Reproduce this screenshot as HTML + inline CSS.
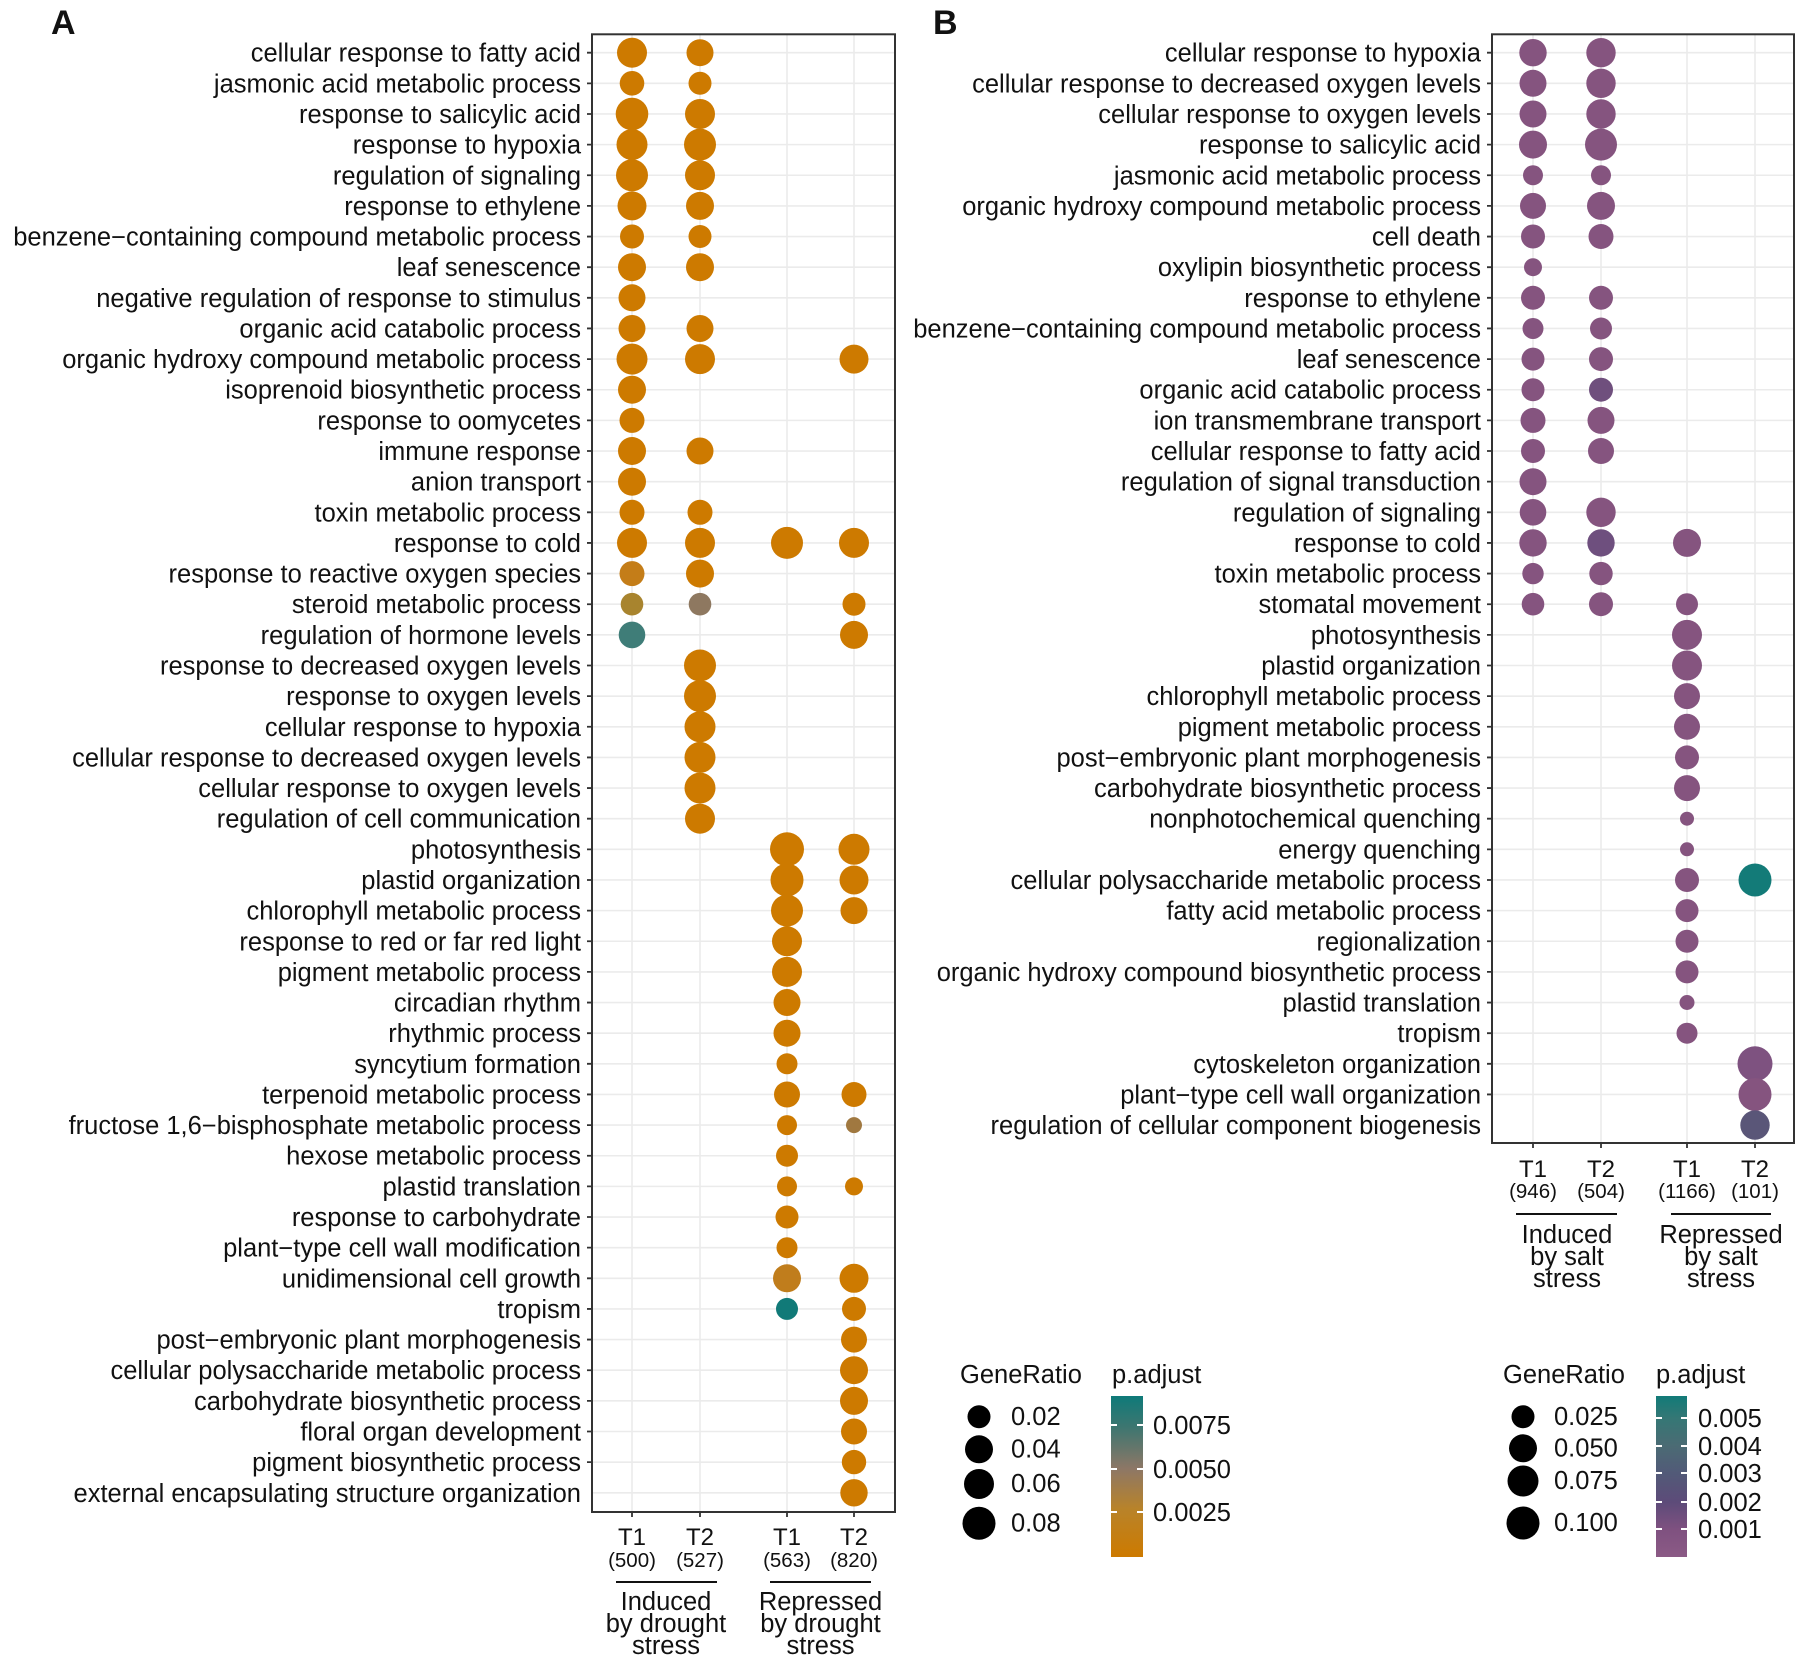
<!DOCTYPE html>
<html><head><meta charset="utf-8"><style>
html,body{margin:0;padding:0;background:#fff;}
svg{display:block;}
text{font-family:"Liberation Sans",Arial,sans-serif;fill:#111;}
.yl{font-size:25.5px;text-anchor:end;}
.xl{font-size:24px;text-anchor:middle;}
.xn{font-size:20.5px;text-anchor:middle;}
.gl{font-size:25.5px;text-anchor:middle;}
.lg{font-size:25.5px;}
</style></head><body>
<svg width="1809" height="1672" viewBox="0 0 1809 1672" xmlns="http://www.w3.org/2000/svg">
<defs>
<linearGradient id="gA" x1="0" y1="1" x2="0" y2="0">
<stop offset="0" stop-color="#cd7a00"/>
<stop offset="0.3" stop-color="#b8832a"/>
<stop offset="0.55" stop-color="#8d7766"/>
<stop offset="0.8" stop-color="#3f7670"/>
<stop offset="1" stop-color="#0e7a79"/>
</linearGradient>
<linearGradient id="gB" x1="0" y1="1" x2="0" y2="0">
<stop offset="0" stop-color="#8b5a85"/>
<stop offset="0.17" stop-color="#7f5180"/>
<stop offset="0.34" stop-color="#5d4b79"/>
<stop offset="0.52" stop-color="#525a78"/>
<stop offset="0.69" stop-color="#4b6b74"/>
<stop offset="0.86" stop-color="#357775"/>
<stop offset="1" stop-color="#127b78"/>
</linearGradient>
</defs>

<text x="51" y="34" style="font-size:34px;font-weight:bold">A</text>
<text x="933" y="34" style="font-size:34px;font-weight:bold">B</text>

<!-- Panel A grid -->
<path fill="none" stroke="#ebebeb" stroke-width="1.6" d="M592 52.7h303m-303 30.64h303m-303 30.64h303m-303 30.64h303m-303 30.64h303m-303 30.64h303m-303 30.64h303m-303 30.64h303m-303 30.64h303m-303 30.64h303m-303 30.64h303m-303 30.64h303m-303 30.64h303m-303 30.64h303m-303 30.64h303m-303 30.64h303m-303 30.64h303m-303 30.64h303m-303 30.64h303m-303 30.64h303m-303 30.64h303m-303 30.64h303m-303 30.64h303m-303 30.64h303m-303 30.64h303m-303 30.64h303m-303 30.64h303m-303 30.64h303m-303 30.64h303m-303 30.64h303m-303 30.64h303m-303 30.64h303m-303 30.64h303m-303 30.64h303m-303 30.64h303m-303 30.64h303m-303 30.64h303m-303 30.64h303m-303 30.64h303m-303 30.64h303m-303 30.64h303m-303 30.64h303m-303 30.64h303m-303 30.64h303m-303 30.64h303m-303 30.64h303m-303 30.64h303m-303 30.64h303M632 34.3V1512M700 34.3V1512M787 34.3V1512M854 34.3V1512"/>
<!-- Panel B grid -->
<path fill="none" stroke="#ebebeb" stroke-width="1.6" d="M1492 52.7h302m-302 30.64h302m-302 30.64h302m-302 30.64h302m-302 30.64h302m-302 30.64h302m-302 30.64h302m-302 30.64h302m-302 30.64h302m-302 30.64h302m-302 30.64h302m-302 30.64h302m-302 30.64h302m-302 30.64h302m-302 30.64h302m-302 30.64h302m-302 30.64h302m-302 30.64h302m-302 30.64h302m-302 30.64h302m-302 30.64h302m-302 30.64h302m-302 30.64h302m-302 30.64h302m-302 30.64h302m-302 30.64h302m-302 30.64h302m-302 30.64h302m-302 30.64h302m-302 30.64h302m-302 30.64h302m-302 30.64h302m-302 30.64h302m-302 30.64h302m-302 30.64h302M1533 34.3V1143M1601 34.3V1143M1687 34.3V1143M1755 34.3V1143"/>

<!-- Panel A circles -->
<g fill="#cd7a00">
<circle cx="632" cy="52.7" r="15"/><circle cx="700" cy="52.7" r="13.5"/>
<circle cx="632" cy="83.3" r="12.3"/><circle cx="700" cy="83.3" r="11.5"/>
<circle cx="632" cy="114" r="16.3"/><circle cx="700" cy="114" r="15"/>
<circle cx="632" cy="144.6" r="15.5"/><circle cx="700" cy="144.6" r="16"/>
<circle cx="632" cy="175.3" r="16"/><circle cx="700" cy="175.3" r="15"/>
<circle cx="632" cy="205.9" r="14.5"/><circle cx="700" cy="205.9" r="14"/>
<circle cx="632" cy="236.5" r="12"/><circle cx="700" cy="236.5" r="11.5"/>
<circle cx="632" cy="267.2" r="14"/><circle cx="700" cy="267.2" r="14"/>
<circle cx="632" cy="297.8" r="13.5"/>
<circle cx="632" cy="328.5" r="13.5"/><circle cx="700" cy="328.5" r="13.5"/>
<circle cx="632" cy="359.1" r="15.5"/><circle cx="700" cy="359.1" r="15"/><circle cx="854" cy="359.1" r="14.5"/>
<circle cx="632" cy="389.7" r="14"/>
<circle cx="632" cy="420.4" r="12.5"/>
<circle cx="632" cy="451" r="14"/><circle cx="700" cy="451" r="13.5"/>
<circle cx="632" cy="481.7" r="14"/>
<circle cx="632" cy="512.3" r="12.5"/><circle cx="700" cy="512.3" r="12.5"/>
<circle cx="632" cy="542.9" r="15"/><circle cx="700" cy="542.9" r="15"/><circle cx="787" cy="542.9" r="16"/><circle cx="854" cy="542.9" r="15"/>
<circle cx="632" cy="573.6" r="12.5" fill="#c47d18"/><circle cx="700" cy="573.6" r="14"/>
<circle cx="632" cy="604.2" r="11.3" fill="#a8842e"/><circle cx="700" cy="604.2" r="11.3" fill="#8e7860"/><circle cx="854" cy="604.2" r="11.5"/>
<circle cx="632" cy="634.9" r="13.3" fill="#3f7d78"/><circle cx="854" cy="634.9" r="14"/>
<circle cx="700" cy="665.5" r="16"/>
<circle cx="700" cy="696.1" r="16"/>
<circle cx="700" cy="726.8" r="15.5"/>
<circle cx="700" cy="757.4" r="15.5"/>
<circle cx="700" cy="788.1" r="15.5"/>
<circle cx="700" cy="818.7" r="15"/>
<circle cx="787" cy="849.3" r="17"/><circle cx="854" cy="849.3" r="15.5"/>
<circle cx="787" cy="880" r="16.5"/><circle cx="854" cy="880" r="14.5"/>
<circle cx="787" cy="910.6" r="16"/><circle cx="854" cy="910.6" r="13.5"/>
<circle cx="787" cy="941.3" r="15"/>
<circle cx="787" cy="971.9" r="15"/>
<circle cx="787" cy="1002.5" r="13.5"/>
<circle cx="787" cy="1033.2" r="13.5"/>
<circle cx="787" cy="1063.8" r="10.5"/>
<circle cx="787" cy="1094.5" r="13"/><circle cx="854" cy="1094.5" r="12.5"/>
<circle cx="787" cy="1125.1" r="10"/><circle cx="854" cy="1125.1" r="8" fill="#a07840"/>
<circle cx="787" cy="1155.7" r="11"/>
<circle cx="787" cy="1186.4" r="10"/><circle cx="854" cy="1186.4" r="9"/>
<circle cx="787" cy="1217" r="11.5"/>
<circle cx="787" cy="1247.7" r="10.5"/>
<circle cx="787" cy="1278.3" r="14" fill="#c07d1c"/><circle cx="854" cy="1278.3" r="14.5"/>
<circle cx="787" cy="1308.9" r="11" fill="#117a78"/><circle cx="854" cy="1308.9" r="12"/>
<circle cx="854" cy="1339.6" r="13"/>
<circle cx="854" cy="1370.2" r="14"/>
<circle cx="854" cy="1400.9" r="14"/>
<circle cx="854" cy="1431.5" r="13"/>
<circle cx="854" cy="1462.1" r="12.2"/>
<circle cx="854" cy="1492.8" r="13.7"/>
</g>

<!-- Panel B circles -->
<g fill="#85547f">
<circle cx="1533" cy="52.7" r="13.7"/><circle cx="1601" cy="52.7" r="14.7"/>
<circle cx="1533" cy="83.3" r="13.5"/><circle cx="1601" cy="83.3" r="14.7"/>
<circle cx="1533" cy="114" r="13.5"/><circle cx="1601" cy="114" r="14.7"/>
<circle cx="1533" cy="144.6" r="14"/><circle cx="1601" cy="144.6" r="16"/>
<circle cx="1533" cy="175.3" r="10"/><circle cx="1601" cy="175.3" r="10"/>
<circle cx="1533" cy="205.9" r="13"/><circle cx="1601" cy="205.9" r="14"/>
<circle cx="1533" cy="236.5" r="12"/><circle cx="1601" cy="236.5" r="12.5"/>
<circle cx="1533" cy="267.2" r="9"/>
<circle cx="1533" cy="297.8" r="12"/><circle cx="1601" cy="297.8" r="12"/>
<circle cx="1533" cy="328.5" r="10.5"/><circle cx="1601" cy="328.5" r="11"/>
<circle cx="1533" cy="359.1" r="11.5"/><circle cx="1601" cy="359.1" r="12"/>
<circle cx="1533" cy="389.7" r="11.5"/><circle cx="1601" cy="389.7" r="12" fill="#6f4f7d"/>
<circle cx="1533" cy="420.4" r="12.5"/><circle cx="1601" cy="420.4" r="13.5"/>
<circle cx="1533" cy="451" r="12"/><circle cx="1601" cy="451" r="13"/>
<circle cx="1533" cy="481.7" r="13.5"/>
<circle cx="1533" cy="512.3" r="13.3"/><circle cx="1601" cy="512.3" r="14.7"/>
<circle cx="1533" cy="542.9" r="13.7"/><circle cx="1601" cy="542.9" r="13.7" fill="#6e4f7e"/><circle cx="1687" cy="542.9" r="14"/>
<circle cx="1533" cy="573.6" r="10.7"/><circle cx="1601" cy="573.6" r="11.7"/>
<circle cx="1533" cy="604.2" r="11.3"/><circle cx="1601" cy="604.2" r="12"/><circle cx="1687" cy="604.2" r="11"/>
<circle cx="1687" cy="634.9" r="15"/>
<circle cx="1687" cy="665.5" r="15"/>
<circle cx="1687" cy="696.1" r="13"/>
<circle cx="1687" cy="726.8" r="13"/>
<circle cx="1687" cy="757.4" r="12"/>
<circle cx="1687" cy="788.1" r="13"/>
<circle cx="1687" cy="818.7" r="7"/>
<circle cx="1687" cy="849.3" r="7"/>
<circle cx="1687" cy="880" r="12"/><circle cx="1755" cy="880" r="16.5" fill="#137b78"/>
<circle cx="1687" cy="910.6" r="11.5"/>
<circle cx="1687" cy="941.3" r="11.5"/>
<circle cx="1687" cy="971.9" r="11.5"/>
<circle cx="1687" cy="1002.5" r="7.5"/>
<circle cx="1687" cy="1033.2" r="10.5"/>
<circle cx="1755" cy="1063.8" r="17.5" fill="#7e5280"/>
<circle cx="1755" cy="1094.5" r="16.5"/>
<circle cx="1755" cy="1125.1" r="14.7" fill="#5a5678"/>
</g>

<!-- Borders and ticks -->
<rect x="592" y="34.3" width="303" height="1477.7" fill="none" stroke="#333" stroke-width="2"/>
<rect x="1492" y="34.3" width="302" height="1108.7" fill="none" stroke="#333" stroke-width="2"/>
<path fill="none" stroke="#333" stroke-width="1.8" d="M587 52.7h5m-5 30.64h5m-5 30.64h5m-5 30.64h5m-5 30.64h5m-5 30.64h5m-5 30.64h5m-5 30.64h5m-5 30.64h5m-5 30.64h5m-5 30.64h5m-5 30.64h5m-5 30.64h5m-5 30.64h5m-5 30.64h5m-5 30.64h5m-5 30.64h5m-5 30.64h5m-5 30.64h5m-5 30.64h5m-5 30.64h5m-5 30.64h5m-5 30.64h5m-5 30.64h5m-5 30.64h5m-5 30.64h5m-5 30.64h5m-5 30.64h5m-5 30.64h5m-5 30.64h5m-5 30.64h5m-5 30.64h5m-5 30.64h5m-5 30.64h5m-5 30.64h5m-5 30.64h5m-5 30.64h5m-5 30.64h5m-5 30.64h5m-5 30.64h5m-5 30.64h5m-5 30.64h5m-5 30.64h5m-5 30.64h5m-5 30.64h5m-5 30.64h5m-5 30.64h5M632 1512v5M700 1512v5M787 1512v5M854 1512v5"/>
<path fill="none" stroke="#333" stroke-width="1.8" d="M1487 52.7h5m-5 30.64h5m-5 30.64h5m-5 30.64h5m-5 30.64h5m-5 30.64h5m-5 30.64h5m-5 30.64h5m-5 30.64h5m-5 30.64h5m-5 30.64h5m-5 30.64h5m-5 30.64h5m-5 30.64h5m-5 30.64h5m-5 30.64h5m-5 30.64h5m-5 30.64h5m-5 30.64h5m-5 30.64h5m-5 30.64h5m-5 30.64h5m-5 30.64h5m-5 30.64h5m-5 30.64h5m-5 30.64h5m-5 30.64h5m-5 30.64h5m-5 30.64h5m-5 30.64h5m-5 30.64h5m-5 30.64h5m-5 30.64h5m-5 30.64h5m-5 30.64h5M1533 1143v5M1601 1143v5M1687 1143v5M1755 1143v5"/>

<!-- Panel A y labels -->
<g transform="translate(0,9)">
<text class="yl" x="581" y="52.7">cellular response to fatty acid</text>
<text class="yl" x="581" y="83.3">jasmonic acid metabolic process</text>
<text class="yl" x="581" y="114">response to salicylic acid</text>
<text class="yl" x="581" y="144.6">response to hypoxia</text>
<text class="yl" x="581" y="175.3">regulation of signaling</text>
<text class="yl" x="581" y="205.9">response to ethylene</text>
<text class="yl" x="581" y="236.5">benzene−containing compound metabolic process</text>
<text class="yl" x="581" y="267.2">leaf senescence</text>
<text class="yl" x="581" y="297.8">negative regulation of response to stimulus</text>
<text class="yl" x="581" y="328.5">organic acid catabolic process</text>
<text class="yl" x="581" y="359.1">organic hydroxy compound metabolic process</text>
<text class="yl" x="581" y="389.7">isoprenoid biosynthetic process</text>
<text class="yl" x="581" y="420.4">response to oomycetes</text>
<text class="yl" x="581" y="451">immune response</text>
<text class="yl" x="581" y="481.7">anion transport</text>
<text class="yl" x="581" y="512.3">toxin metabolic process</text>
<text class="yl" x="581" y="542.9">response to cold</text>
<text class="yl" x="581" y="573.6">response to reactive oxygen species</text>
<text class="yl" x="581" y="604.2">steroid metabolic process</text>
<text class="yl" x="581" y="634.9">regulation of hormone levels</text>
<text class="yl" x="581" y="665.5">response to decreased oxygen levels</text>
<text class="yl" x="581" y="696.1">response to oxygen levels</text>
<text class="yl" x="581" y="726.8">cellular response to hypoxia</text>
<text class="yl" x="581" y="757.4">cellular response to decreased oxygen levels</text>
<text class="yl" x="581" y="788.1">cellular response to oxygen levels</text>
<text class="yl" x="581" y="818.7">regulation of cell communication</text>
<text class="yl" x="581" y="849.3">photosynthesis</text>
<text class="yl" x="581" y="880">plastid organization</text>
<text class="yl" x="581" y="910.6">chlorophyll metabolic process</text>
<text class="yl" x="581" y="941.3">response to red or far red light</text>
<text class="yl" x="581" y="971.9">pigment metabolic process</text>
<text class="yl" x="581" y="1002.5">circadian rhythm</text>
<text class="yl" x="581" y="1033.2">rhythmic process</text>
<text class="yl" x="581" y="1063.8">syncytium formation</text>
<text class="yl" x="581" y="1094.5">terpenoid metabolic process</text>
<text class="yl" x="581" y="1125.1">fructose 1,6−bisphosphate metabolic process</text>
<text class="yl" x="581" y="1155.7">hexose metabolic process</text>
<text class="yl" x="581" y="1186.4">plastid translation</text>
<text class="yl" x="581" y="1217">response to carbohydrate</text>
<text class="yl" x="581" y="1247.7">plant−type cell wall modification</text>
<text class="yl" x="581" y="1278.3">unidimensional cell growth</text>
<text class="yl" x="581" y="1308.9">tropism</text>
<text class="yl" x="581" y="1339.6">post−embryonic plant morphogenesis</text>
<text class="yl" x="581" y="1370.2">cellular polysaccharide metabolic process</text>
<text class="yl" x="581" y="1400.9">carbohydrate biosynthetic process</text>
<text class="yl" x="581" y="1431.5">floral organ development</text>
<text class="yl" x="581" y="1462.1">pigment biosynthetic process</text>
<text class="yl" x="581" y="1492.8">external encapsulating structure organization</text>
</g>

<!-- Panel B y labels -->
<g transform="translate(0,9)">
<text class="yl" x="1481" y="52.7">cellular response to hypoxia</text>
<text class="yl" x="1481" y="83.3">cellular response to decreased oxygen levels</text>
<text class="yl" x="1481" y="114">cellular response to oxygen levels</text>
<text class="yl" x="1481" y="144.6">response to salicylic acid</text>
<text class="yl" x="1481" y="175.3">jasmonic acid metabolic process</text>
<text class="yl" x="1481" y="205.9">organic hydroxy compound metabolic process</text>
<text class="yl" x="1481" y="236.5">cell death</text>
<text class="yl" x="1481" y="267.2">oxylipin biosynthetic process</text>
<text class="yl" x="1481" y="297.8">response to ethylene</text>
<text class="yl" x="1481" y="328.5">benzene−containing compound metabolic process</text>
<text class="yl" x="1481" y="359.1">leaf senescence</text>
<text class="yl" x="1481" y="389.7">organic acid catabolic process</text>
<text class="yl" x="1481" y="420.4">ion transmembrane transport</text>
<text class="yl" x="1481" y="451">cellular response to fatty acid</text>
<text class="yl" x="1481" y="481.7">regulation of signal transduction</text>
<text class="yl" x="1481" y="512.3">regulation of signaling</text>
<text class="yl" x="1481" y="542.9">response to cold</text>
<text class="yl" x="1481" y="573.6">toxin metabolic process</text>
<text class="yl" x="1481" y="604.2">stomatal movement</text>
<text class="yl" x="1481" y="634.9">photosynthesis</text>
<text class="yl" x="1481" y="665.5">plastid organization</text>
<text class="yl" x="1481" y="696.1">chlorophyll metabolic process</text>
<text class="yl" x="1481" y="726.8">pigment metabolic process</text>
<text class="yl" x="1481" y="757.4">post−embryonic plant morphogenesis</text>
<text class="yl" x="1481" y="788.1">carbohydrate biosynthetic process</text>
<text class="yl" x="1481" y="818.7">nonphotochemical quenching</text>
<text class="yl" x="1481" y="849.3">energy quenching</text>
<text class="yl" x="1481" y="880">cellular polysaccharide metabolic process</text>
<text class="yl" x="1481" y="910.6">fatty acid metabolic process</text>
<text class="yl" x="1481" y="941.3">regionalization</text>
<text class="yl" x="1481" y="971.9">organic hydroxy compound biosynthetic process</text>
<text class="yl" x="1481" y="1002.5">plastid translation</text>
<text class="yl" x="1481" y="1033.2">tropism</text>
<text class="yl" x="1481" y="1063.8">cytoskeleton organization</text>
<text class="yl" x="1481" y="1094.5">plant−type cell wall organization</text>
<text class="yl" x="1481" y="1125.1">regulation of cellular component biogenesis</text>
</g>

<!-- Panel A x labels -->
<text class="xl" x="632" y="1545">T1</text>
<text class="xl" x="700" y="1545">T2</text>
<text class="xl" x="787" y="1545">T1</text>
<text class="xl" x="854" y="1545">T2</text>
<text class="xn" x="632" y="1567">(500)</text>
<text class="xn" x="700" y="1567">(527)</text>
<text class="xn" x="787" y="1567">(563)</text>
<text class="xn" x="854" y="1567">(820)</text>
<path stroke="#111" stroke-width="2" d="M616 1582H717M770 1582H871"/>
<text class="gl" x="666" y="1610">Induced</text>
<text class="gl" x="666" y="1632">by drought</text>
<text class="gl" x="666" y="1654">stress</text>
<text class="gl" x="820.5" y="1610">Repressed</text>
<text class="gl" x="820.5" y="1632">by drought</text>
<text class="gl" x="820.5" y="1654">stress</text>

<!-- Panel B x labels -->
<text class="xl" x="1533" y="1177">T1</text>
<text class="xl" x="1601" y="1177">T2</text>
<text class="xl" x="1687" y="1177">T1</text>
<text class="xl" x="1755" y="1177">T2</text>
<text class="xn" x="1533" y="1198">(946)</text>
<text class="xn" x="1601" y="1198">(504)</text>
<text class="xn" x="1687" y="1198">(1166)</text>
<text class="xn" x="1755" y="1198">(101)</text>
<path stroke="#111" stroke-width="2" d="M1516 1214H1617M1671 1214H1771"/>
<text class="gl" x="1567" y="1243">Induced</text>
<text class="gl" x="1567" y="1265">by salt</text>
<text class="gl" x="1567" y="1287">stress</text>
<text class="gl" x="1721" y="1243">Repressed</text>
<text class="gl" x="1721" y="1265">by salt</text>
<text class="gl" x="1721" y="1287">stress</text>

<!-- Legend A -->
<text class="lg" x="960" y="1383">GeneRatio</text>
<text class="lg" x="1112" y="1383">p.adjust</text>
<g fill="#000">
<circle cx="979" cy="1416.7" r="11.5"/>
<circle cx="979" cy="1449.3" r="14"/>
<circle cx="979" cy="1484" r="15"/>
<circle cx="979" cy="1523.3" r="16.5"/>
</g>
<text class="lg" x="1011" y="1425">0.02</text>
<text class="lg" x="1011" y="1457.5">0.04</text>
<text class="lg" x="1011" y="1492">0.06</text>
<text class="lg" x="1011" y="1531.5">0.08</text>
<rect x="1111" y="1396" width="32" height="161" fill="url(#gA)"/>
<path stroke="#fff" stroke-width="2" d="M1111 1425h6M1137 1425h6M1111 1469h6M1137 1469h6M1111 1512h6M1137 1512h6"/>
<text class="lg" x="1153" y="1434">0.0075</text>
<text class="lg" x="1153" y="1478">0.0050</text>
<text class="lg" x="1153" y="1521">0.0025</text>

<!-- Legend B -->
<text class="lg" x="1503" y="1383">GeneRatio</text>
<text class="lg" x="1656" y="1383">p.adjust</text>
<g fill="#000">
<circle cx="1523" cy="1416.7" r="11.5"/>
<circle cx="1523" cy="1448.3" r="14"/>
<circle cx="1523" cy="1481" r="15.5"/>
<circle cx="1523" cy="1523" r="16.5"/>
</g>
<text class="lg" x="1554" y="1425">0.025</text>
<text class="lg" x="1554" y="1456.5">0.050</text>
<text class="lg" x="1554" y="1489">0.075</text>
<text class="lg" x="1554" y="1531">0.100</text>
<rect x="1656" y="1396" width="31" height="161" fill="url(#gB)"/>
<path stroke="#fff" stroke-width="2" d="M1656 1418h6M1681 1418h6M1656 1446h6M1681 1446h6M1656 1473h6M1681 1473h6M1656 1502h6M1681 1502h6M1656 1529h6M1681 1529h6"/>
<text class="lg" x="1698" y="1427">0.005</text>
<text class="lg" x="1698" y="1455">0.004</text>
<text class="lg" x="1698" y="1482">0.003</text>
<text class="lg" x="1698" y="1511">0.002</text>
<text class="lg" x="1698" y="1538">0.001</text>
</svg>
</body></html>
